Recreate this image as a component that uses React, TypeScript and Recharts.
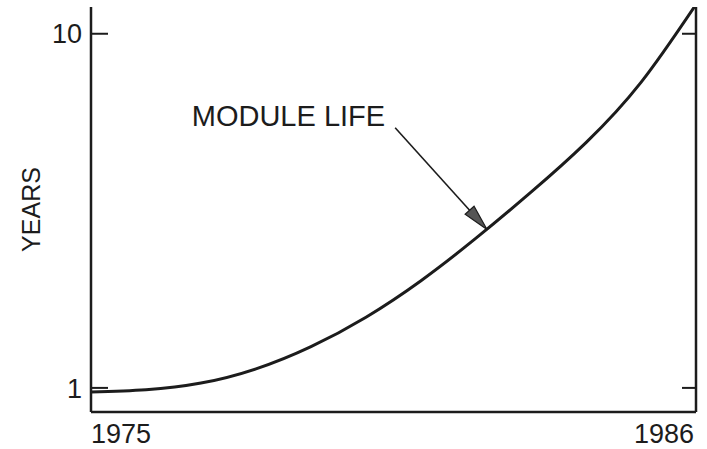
import React from 'react';
import {
  LineChart,
  Line,
  XAxis,
  YAxis,
  ReferenceLine,
} from 'recharts';

// values (log scale, years)
const years = [1975, 1976, 1977, 1978, 1979, 1980, 1981, 1982, 1983, 1984, 1985, 1986];
const moduleLife = [0.974, 0.988, 1.032, 1.132, 1.308, 1.584, 2.008, 2.647, 3.57, 4.928, 7.29, 12.1];
const xTicks = [1975, 1986];
const yTicks = [1, 10];
const yDomain = [0.855, 11.9];
const arrowFrom = { year: 1980.53, value: 5.43 };
const arrowTo = { year: 1982.2, value: 2.8 };
const seriesLabel = 'MODULE LIFE';

const data = years.map((year, i) => ({ year, life: moduleLife[i] }));

const INK = '#1c1c1c';
const FONT = '"Liberation Sans", Arial, Helvetica, sans-serif';

const LeftTick = (props: any) => {
  const { x, y, payload } = props;
  return (
    <g>
      <line x1={x} y1={y} x2={x + 17} y2={y} stroke={INK} strokeWidth={2} />
      <text x={x - 9} y={y} dy="0.36em" textAnchor="end" fontSize={27} fill={INK} fontFamily={FONT}>
        {payload.value}
      </text>
    </g>
  );
};

const RightTick = (props: any) => {
  const { x, y } = props;
  return <line x1={x} y1={y} x2={x - 14} y2={y} stroke={INK} strokeWidth={2} />;
};

const BottomTick = (props: any) => {
  const { x, y, payload, index } = props;
  return (
    <text
      x={index === 0 ? x : x + 3}
      y={y + 31}
      textAnchor={index === 0 ? 'start' : 'end'}
      fontSize={27}
      fill={INK}
      fontFamily={FONT}
    >
      {payload.value}
    </text>
  );
};

const Arrow = (props: any) => {
  const { x1, y1, x2, y2 } = props;
  const dx = x2 - x1;
  const dy = y2 - y1;
  const len = Math.sqrt(dx * dx + dy * dy);
  const ux = dx / len;
  const uy = dy / len;
  const headLen = 26;
  const headW = 6;
  const bx = x2 - ux * headLen;
  const by = y2 - uy * headLen;
  return (
    <g>
      <line x1={x1} y1={y1} x2={bx} y2={by} stroke={INK} strokeWidth={1.6} />
      <polygon
        points={`${x2},${y2} ${bx - uy * headW},${by + ux * headW} ${bx + uy * headW},${by - ux * headW}`}
        fill="#555"
        stroke={INK}
        strokeWidth={1.2}
      />
      <text x={x1 - 10} y={y1 - 2} textAnchor="end" fontSize={29} fill={INK} fontFamily={FONT}>
        {seriesLabel}
      </text>
    </g>
  );
};

const YearsLabel = (props: any) => {
  const { viewBox } = props;
  const cx = viewBox.x + 31;
  const cy = viewBox.y + viewBox.height / 2;
  return (
    <text
      x={cx}
      y={cy}
      transform={`rotate(-90, ${cx}, ${cy})`}
      textAnchor="middle"
      dominantBaseline="central"
      fontSize={25}
      fill={INK}
      fontFamily={FONT}
    >
      YEARS
    </text>
  );
};

export default function App() {
  return (
    <div style={{ position: 'absolute', left: 0, top: 0, width: 707, height: 449, background: '#fff' }}>
      <LineChart width={707} height={449} data={data} margin={{ top: 7, right: 0, bottom: 7, left: 0 }}>
        <XAxis
          dataKey="year"
          type="number"
          domain={[1975, 1986]}
          ticks={xTicks}
          height={30}
          tickSize={0}
          tickMargin={0}
          tick={<BottomTick />}
          axisLine={{ stroke: INK, strokeWidth: 2.5 }}
          tickLine={false}
        />
        <XAxis
          xAxisId="top"
          orientation="top"
          dataKey="year"
          type="number"
          domain={[1975, 1986]}
          height={0}
          tick={false}
          tickLine={false}
          axisLine={{ stroke: INK, strokeWidth: 2 }}
        />
        <YAxis
          scale="log"
          type="number"
          domain={yDomain}
          allowDataOverflow
          ticks={yTicks}
          width={91}
          tickSize={0}
          tickMargin={0}
          tick={<LeftTick />}
          tickLine={false}
          axisLine={{ stroke: INK, strokeWidth: 2.5 }}
          label={<YearsLabel />}
        />
        <YAxis
          yAxisId="right"
          orientation="right"
          scale="log"
          type="number"
          domain={yDomain}
          allowDataOverflow
          ticks={yTicks}
          width={11}
          tickSize={0}
          tickMargin={0}
          tick={<RightTick />}
          tickLine={false}
          axisLine={{ stroke: INK, strokeWidth: 2.5 }}
        />
        <ReferenceLine
          segment={[
            { x: arrowFrom.year, y: arrowFrom.value },
            { x: arrowTo.year, y: arrowTo.value },
          ]}
          shape={<Arrow />}
          ifOverflow="visible"
        />
        <Line
          type="natural"
          dataKey="life"
          stroke={INK}
          strokeWidth={3}
          dot={false}
          isAnimationActive={false}
        />
      </LineChart>
    </div>
  );
}
